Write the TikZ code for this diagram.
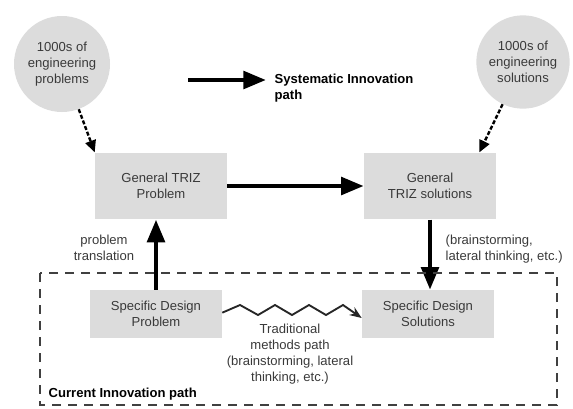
\documentclass[tikz,border=0pt]{standalone}
\usepackage{fontspec}
\setmainfont{Liberation Sans}
\usetikzlibrary{arrows.meta}
\definecolor{boxgray}{HTML}{DCDCDC}
\definecolor{txtgray}{HTML}{3A3A3A}
\tikzset{
  pool/.style={circle,fill=boxgray,minimum size=72pt,inner sep=0pt,align=center,text=txtgray},
  trizbox/.style={rectangle,fill=boxgray,minimum width=99pt,minimum height=50pt,align=center,text=txtgray},
  designbox/.style={rectangle,fill=boxgray,minimum width=99pt,minimum height=36pt,align=center,text=txtgray},
  bigarrow/.style={line width=3.4pt,-{Triangle[length=17pt,width=13pt]}},
  feedarrow/.style={line width=1.8pt,dash pattern=on 3pt off 1.5pt,-{Triangle[length=9pt,width=8pt]}},
  note/.style={align=center,text=txtgray}
}
\begin{document}
\begin{tikzpicture}[x=0.75pt,y=-0.75pt,font=\fontsize{9.8}{12}\selectfont]
\useasboundingbox (0,0) rectangle (573,408);

\node[pool] (probs) at (62,64) {1000s of\\engineering\\problems};
\node[pool,minimum size=70pt] (sols) at (523,62) {1000s of\\engineering\\solutions};

\node[trizbox] (gtp) at (161,186) {General TRIZ\\Problem};
\node[trizbox] (gts) at (430,186) {General\\TRIZ solutions};
\node[designbox] (sdp) at (156,314) {Specific Design\\Problem};
\node[designbox] (sds) at (428,314) {Specific Design\\Solutions};

% systematic path
\coordinate (sysa) at (188,80);
\coordinate (sysb) at (266,80);
\draw[bigarrow] (sysa) -- (sysb);
\node[anchor=west,align=left,font=\fontsize{9.8}{12}\selectfont\bfseries] (syslbl) at (270,88) {Systematic Innovation\\path};

\draw[feedarrow] (probs) -- (gtp.north west);
\draw[feedarrow] (sols) -- ([xshift=37pt]gts.north);

\draw[bigarrow] (gtp) -- (gts);
\draw[bigarrow] (gts.south) -- (gts.south |- sds.north);
\draw[bigarrow] (sdp.north) -- (sdp.north |- gtp.south);

\node[note] (translbl) at (104,248) {problem\\translation};
\node[note,anchor=west,align=left] (brainlbl) at (441,249) {(brainstorming,\\lateral thinking, etc.)};

% current path
\draw[line width=1.3pt,dash pattern=on 7pt off 5pt,black!75] (40,273) rectangle (557,405);
\draw[line width=1.4pt,black!85,line join=miter,-{Stealth[length=9pt,width=7pt]}]
  ([yshift=1pt]sdp.east) -- (240,305) -- (258,315) -- (275,305) -- (292,315) -- (309,305)
  -- (326,315) -- (343,305) -- ([yshift=-3pt]sds.west);
\node[note] (tradlbl) at (290,354) {Traditional\\methods path\\(brainstorming, lateral\\thinking, etc.)};
\node[anchor=west,font=\fontsize{9.8}{12}\selectfont\bfseries] (curlbl) at (44,394) {Current Innovation path};
\end{tikzpicture}
\end{document}
